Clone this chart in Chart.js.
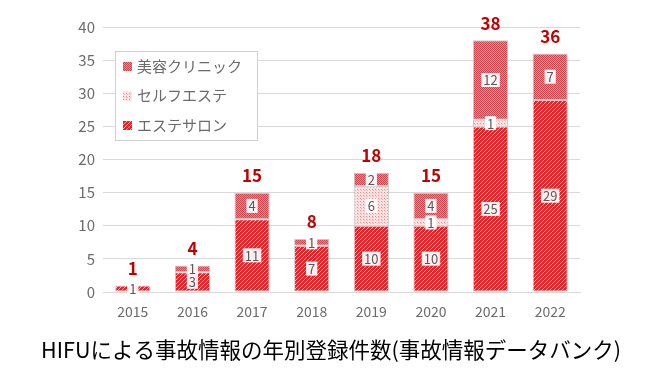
<!DOCTYPE html>
<html>
<head>
<meta charset="utf-8">
<script src="https://cdn.jsdelivr.net/npm/chart.js@4/dist/chart.umd.min.js"></script>
<style>
  html, body { margin: 0; padding: 0; background: #fff; }
  #wrap { width: 662px; height: 372px; }
</style>
</head>
<body>
<div id="wrap"><canvas id="chart" width="662" height="372"></canvas></div>
<script>
// データ
const years = ["2015", "2016", "2017", "2018", "2019", "2020", "2021", "2022"];
const salon = [1, 3, 11, 7, 10, 10, 25, 29];      // エステサロン
const selfEsthe = [0, 0, 0, 0, 6, 1, 1, 0];       // セルフエステ
const clinic = [0, 1, 4, 1, 2, 4, 12, 7];         // 美容クリニック
const yTicks = [0, 5, 10, 15, 20, 25, 30, 35, 40];

const FONT = "'Noto Sans CJK JP', 'Noto Sans', sans-serif";
const TITLE = "HIFUによる事故情報の年別登録件数(事故情報データバンク)";
const GRAY = "#6b6b6b";

// パターン作成
function makePattern(size, draw) {
  const c = document.createElement("canvas");
  c.width = size; c.height = size;
  const g = c.getContext("2d");
  draw(g, size);
  return document.getElementById("chart").getContext("2d").createPattern(c, "repeat");
}

const salonPattern = makePattern(4, (g, s) => {
  g.fillStyle = "#e2242b";
  g.fillRect(0, 0, s, s);
  g.strokeStyle = "#f6b3b5";
  g.lineWidth = 1;
  for (let o = -s; o <= s; o += s) {
    g.beginPath();
    g.moveTo(o, s);
    g.lineTo(o + s, 0);
    g.stroke();
  }
});

const selfPattern = makePattern(3, (g, s) => {
  g.fillStyle = "#fbe3e4";
  g.fillRect(0, 0, s, s);
  g.fillStyle = "#e88a8e";
  g.fillRect(0, 0, 1, 1);
  g.fillStyle = "#f4b8ba";
  g.fillRect(1, 1, 1, 1);
});

const clinicPattern = makePattern(2, (g, s) => {
  g.fillStyle = "#e6868b";
  g.fillRect(0, 0, s, s);
  g.fillStyle = "#cc4850";
  g.fillRect(0, 0, 1, 1);
  g.fillRect(1, 1, 1, 1);
});

// ラベル・凡例・タイトルを描くプラグイン
const labelPlugin = {
  id: "labels",
  afterDatasetsDraw(chart) {
    const ctx = chart.ctx;
    ctx.save();
    ctx.textAlign = "center";
    ctx.textBaseline = "middle";
    // 各区分の値
    ctx.font = "13px " + FONT;
    chart.data.datasets.forEach((ds, di) => {
      const meta = chart.getDatasetMeta(di);
      meta.data.forEach((bar, i) => {
        const v = ds.data[i];
        if (!v) return;
        const y = (bar.y + bar.base) / 2;
        const txt = String(v);
        const w = ctx.measureText(txt).width + 4;
        ctx.fillStyle = "rgba(255,255,255,0.92)";
        ctx.fillRect(bar.x - w / 2, y - 7, w, 14);
        ctx.fillStyle = "#595959";
        ctx.fillText(txt, bar.x, y + 0.5);
      });
    });
    // 合計
    ctx.font = "bold 17px " + FONT;
    ctx.fillStyle = "#c00000";
    const yScale = chart.scales.y;
    const topMeta = chart.getDatasetMeta(chart.data.datasets.length - 1);
    years.forEach((yr, i) => {
      const total = salon[i] + selfEsthe[i] + clinic[i];
      const x = topMeta.data[i].x;
      ctx.fillText(String(total), x, yScale.getPixelForValue(total) - 17);
    });
    ctx.restore();
  },
  afterDraw(chart) {
    const ctx = chart.ctx;
    ctx.save();
    const bx = 115, by = 51, bw = 142, bh = 89;
    ctx.fillStyle = "#fff";
    ctx.fillRect(bx, by, bw, bh);
    ctx.strokeStyle = "#d0d0d0";
    ctx.lineWidth = 1;
    ctx.strokeRect(bx + 0.5, by + 0.5, bw, bh);
    const items = [
      { text: "美容クリニック", fill: clinicPattern },
      { text: "セルフエステ", fill: selfPattern },
      { text: "エステサロン", fill: salonPattern },
    ];
    ctx.font = "15px " + FONT;
    ctx.textBaseline = "middle";
    ctx.textAlign = "left";
    items.forEach((it, k) => {
      const cy = by + 15 + k * 29.5;
      ctx.fillStyle = it.fill;
      ctx.fillRect(bx + 8, cy - 4, 9, 9);
      ctx.fillStyle = GRAY;
      ctx.fillText(it.text, bx + 22, cy);
    });
    // タイトル
    ctx.font = "21.5px " + FONT;
    ctx.fillStyle = "#000";
    ctx.textAlign = "center";
    ctx.fillText(TITLE, 331, 350);
    ctx.restore();
  },
};

const barStyle = {
  borderColor: "#c9c9c9",
  borderWidth: 1,
  borderSkipped: false,
  barPercentage: 0.59,
  categoryPercentage: 1.0,
};

new Chart(document.getElementById("chart"), {
  type: "bar",
  data: {
    labels: years,
    datasets: [
      { label: "エステサロン", data: salon, backgroundColor: salonPattern, ...barStyle },
      { label: "セルフエステ", data: selfEsthe, backgroundColor: selfPattern, ...barStyle },
      { label: "美容クリニック", data: clinic, backgroundColor: clinicPattern, ...barStyle },
    ],
  },
  options: {
    responsive: false,
    animation: false,
    layout: { padding: { left: 0, right: 82, top: 27, bottom: 50 } },
    plugins: {
      legend: { display: false },
      tooltip: { enabled: false },
    },
    scales: {
      x: {
        stacked: true,
        grid: { display: false },
        border: { color: "#d9d9d9" },
        ticks: { color: GRAY, font: { family: FONT, size: 14 }, padding: 3 },
        afterFit(s) { s.height = 30; },
      },
      y: {
        stacked: true,
        min: 0,
        max: 40,
        afterBuildTicks(s) { s.ticks = yTicks.map((v) => ({ value: v })); },
        grid: { color: "#d9d9d9", drawTicks: false },
        border: { display: false },
        ticks: { color: GRAY, font: { family: FONT, size: 15 }, padding: 8 },
        afterFit(s) { s.width = 103; },
      },
    },
  },
  plugins: [labelPlugin],
});
</script>
</body>
</html>
